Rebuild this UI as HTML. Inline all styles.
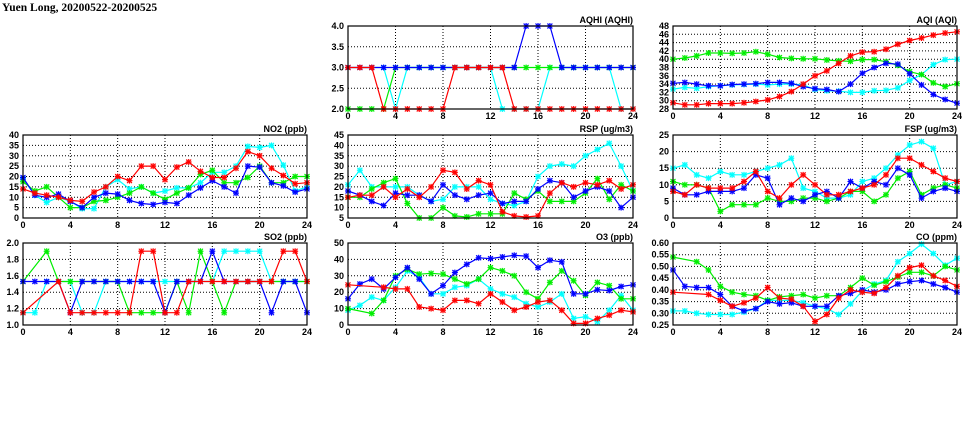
<!DOCTYPE html>
<html><head><meta charset="utf-8"><style>
body{margin:0;background:#fff;}
svg{display:block;}
text{font-family:"Liberation Sans",sans-serif;font-size:9px;font-weight:bold;fill:#000;}
.ttl{font-family:"Liberation Serif",serif;font-size:11.5px;font-weight:bold;}
</style></head><body>
<svg id="chart" width="975" height="447" viewBox="0 0 975 447" xmlns="http://www.w3.org/2000/svg">
<text class="ttl" x="2" y="11">Yuen Long, 20200522-20200525</text>
</svg>
<script>
const hours = [0,1,2,3,4,5,6,7,8,9,10,11,12,13,14,15,16,17,18,19,20,21,22,23,24];
const xTicks = [0,4,8,12,16,20,24];
const seriesNames = ["cyan","green","blue","red"];
const seriesColors = {red:"#ff0000",green:"#00ee00",cyan:"#00ffff",blue:"#0000ff"};

const aqhiRed=[3,3,3,2,2,2,2,2,2,3,3,3,3,3,2,2,2,2,2,2,2,2,2,2,2];
const aqhiGreen=[2,2,2,2,3,3,3,3,3,3,3,3,3,3,3,3,3,3,3,3,3,3,3,3,3];
const aqhiCyan=[3,3,3,3,2,3,3,3,3,3,3,3,3,2,2,2,2,3,3,3,3,3,3,2,2];
const aqhiBlue=[3,3,3,3,3,3,3,3,3,3,3,3,3,3,3,4,4,4,3,3,3,3,3,3,3];
const aqhiTicks=[2.0,2.5,3.0,3.5,4.0];

const aqiRed=[29.5,29,29,29.3,29.3,29.3,29.5,29.8,30.2,31,32.2,34,36,37.2,39,40.8,41.7,41.8,42.4,43.6,44.5,45.1,45.8,46.3,46.6];
const aqiGreen=[40,40.3,40.8,41.5,41.5,41.4,41.5,41.8,41.2,40.4,40.2,40.1,40.1,39.8,39.6,39.5,39.9,39.9,39.4,38.5,37,36.3,34.3,33.4,34.1];
const aqiCyan=[32.8,33.2,33,33.4,33.6,33.8,33.9,34,33.8,34,34,33.8,32.7,32.4,32.3,32,32,32.4,32.5,33.1,34.9,36.3,38.7,39.9,40];
const aqiBlue=[34.2,34.4,34,33.6,33.6,33.9,34,34.1,34.4,34.4,34.2,33.4,32.9,32.7,32.2,34,36.6,38,39,38.8,36.5,33.8,31.5,30.3,29.4];
const aqiTicks=[28,30,32,34,36,38,40,42,44,46,48];

const no2Red=[14,12,11,10,8.5,8,12.5,15,20,18,25,25,18.5,24.5,27,22.5,19.5,19.5,24,32,30,24,20.5,16.5,17];
const no2Green=[17.5,13,15,10,5,5,8,8.5,10,12,15,12,9,12,14.5,21,23,17,17,19.5,25,17,17,20,20];
const no2Cyan=[19,11,7.5,10,8,4.5,4.5,15,18.5,14,15,12,13,14.5,14.5,17,22,22,25,34.5,34,35,25.5,13,15];
const no2Blue=[19.5,11,10,11.5,8,5,10,12,11.5,8.5,7,6.5,7.5,7,11,14.5,18,15,12,25,24.5,17,15.5,12.5,14];
const no2Ticks=[0,5,10,15,20,25,30,35,40];

const rspRed=[15,16,16,20,15,19,15,20,28,27,19,23,21,8,6,5.5,6,17,22,20,22,21,23,19,21];
const rspGreen=[15,15,19,22,24,12,5,5,10,6,5.5,7,7,7,17,14,18,13,13,13,17,24,14,21,18];
const rspCyan=[21,28,20,20,20,20,16,13,14,20,20,20,14,12,11,13,25,30,31,30,35,38,41,30,18];
const rspBlue=[18,16,13,11,17,16,16,13,21,16,14,16,17,12,13,13,19,23,22,15,18,20,18,10,15];
const rspTicks=[5,10,15,20,25,30,35,40,45];

const fspRed=[8,7,10,9,9,9,11,14,8,6,10,13,10,7,7,8,9,10,13,18,18,16,14,12,11];
const fspGreen=[11,10,10,9,2,4,4,4,6,5,5,6,6,5,6,8,8,5,7,12,14,7,9,10,9];
const fspCyan=[15,16,13,12,14,13,13,14,15,16,18,9,8,6,6,7,11,12,15,19,22,23,21,10,11];
const fspBlue=[9,7,7,8,8,8,9,13,12,4,6,5,7,8,6,11,9,11,10,15,13,6,8,9,8];
const fspTicks=[0,5,10,15,20,25];

const so2Red=[1.15,null,null,1.53,1.15,1.15,1.15,1.15,1.15,1.15,1.9,1.9,1.15,1.15,1.53,1.53,1.53,1.53,1.53,1.53,1.53,1.53,1.9,1.9,1.53];
const so2Green=[1.53,null,1.9,1.53,1.53,1.53,1.53,1.53,1.53,1.15,1.15,1.15,1.15,1.53,1.15,1.9,1.53,1.15,1.53,1.53,1.53,1.53,1.53,1.53,1.53];
const so2Cyan=[1.15,1.15,1.53,1.53,1.53,1.15,1.15,1.53,1.53,1.53,1.53,1.53,1.53,1.53,1.53,1.53,1.53,1.9,1.9,1.9,1.9,1.53,1.53,1.53,1.53];
const so2Blue=[1.53,1.53,1.53,1.53,1.15,1.53,1.53,1.53,1.53,1.53,1.53,1.53,1.15,1.53,1.53,1.53,1.9,1.53,1.53,1.53,1.53,1.15,1.53,1.53,1.15];
const so2Ticks=[1.0,1.2,1.4,1.6,1.8,2.0];

const o3Red=[24.5,null,null,23,22,22,11,10,9,15,15,13,19,14,9,11,14,15,9,1,1,4,6,9,8];
const o3Green=[10,null,7,15,30,34,31,31.5,31,28,25,28,35,33,30,20,16,26,33,27,18,26,24,16,16];
const o3Cyan=[9,12,17,15,23,33,29,19,19,23,24,28,22,19,17,13,11,14,19,4,5,2,9,18,9];
const o3Blue=[16,25,28,22,29,35,28,19,24,32,37,41,40.5,41.5,42.5,42,35,39.5,38.5,19,19,21.5,21,23.5,24.5];
const o3Ticks=[0,10,20,30,40,50];

const coRed=[0.39,null,null,0.38,0.355,0.33,0.345,0.365,0.41,0.365,0.36,0.33,0.265,0.295,0.365,0.40,0.39,0.385,0.41,0.46,0.495,0.505,0.46,0.44,0.415];
const coGreen=[0.54,null,0.52,0.485,0.415,0.39,0.38,0.375,0.355,0.37,0.375,0.38,0.365,0.375,0.375,0.41,0.45,0.42,0.435,0.455,0.475,0.475,0.46,0.50,0.485];
const coCyan=[0.31,0.31,0.30,0.295,0.295,0.295,0.305,0.32,0.355,0.355,0.355,0.345,0.33,0.32,0.295,0.34,0.395,0.425,0.44,0.52,0.555,0.595,0.555,0.505,0.535];
const coBlue=[0.485,0.415,0.41,0.41,0.38,0.33,0.31,0.32,0.35,0.34,0.345,0.33,0.33,0.33,0.375,0.385,0.40,0.39,0.40,0.425,0.435,0.44,0.425,0.41,0.39];
const coTicks=[0.25,0.30,0.35,0.40,0.45,0.50,0.55,0.60];

const panels=[
 {id:"aqhi",title:"AQHI (AQHI)",x0:348,x1:633,y0:26,y1:109,ticks:aqhiTicks,dec:1,s:{red:aqhiRed,green:aqhiGreen,cyan:aqhiCyan,blue:aqhiBlue}},
 {id:"aqi",title:"AQI (AQI)",x0:673,x1:957,y0:26,y1:109,ticks:aqiTicks,dec:0,s:{red:aqiRed,green:aqiGreen,cyan:aqiCyan,blue:aqiBlue}},
 {id:"no2",title:"NO2 (ppb)",x0:23,x1:307,y0:135,y1:218,ticks:no2Ticks,dec:0,s:{red:no2Red,green:no2Green,cyan:no2Cyan,blue:no2Blue}},
 {id:"rsp",title:"RSP (ug/m3)",x0:348,x1:633,y0:135,y1:218,ticks:rspTicks,dec:0,s:{red:rspRed,green:rspGreen,cyan:rspCyan,blue:rspBlue}},
 {id:"fsp",title:"FSP (ug/m3)",x0:673,x1:957,y0:135,y1:218,ticks:fspTicks,dec:0,s:{red:fspRed,green:fspGreen,cyan:fspCyan,blue:fspBlue}},
 {id:"so2",title:"SO2 (ppb)",x0:23,x1:307,y0:243,y1:325,ticks:so2Ticks,dec:1,s:{red:so2Red,green:so2Green,cyan:so2Cyan,blue:so2Blue}},
 {id:"o3",title:"O3 (ppb)",x0:348,x1:633,y0:243,y1:325,ticks:o3Ticks,dec:0,s:{red:o3Red,green:o3Green,cyan:o3Cyan,blue:o3Blue}},
 {id:"co",title:"CO (ppm)",x0:673,x1:957,y0:243,y1:325,ticks:coTicks,dec:2,s:{red:coRed,green:coGreen,cyan:coCyan,blue:coBlue}}
];

const NS="http://www.w3.org/2000/svg";
const svg=document.getElementById("chart");
function mk(tag,attrs,parent){const e=document.createElementNS(NS,tag);for(const k in attrs)e.setAttribute(k,attrs[k]);parent.appendChild(e);return e;}

panels.forEach(p=>{
 const g=mk("g",{},svg);
 
 
 const ymin=p.ticks[0],ymax=p.ticks[p.ticks.length-1];
 const xs=v=>p.x0+(v/24)*(p.x1-p.x0);
 const ys=v=>p.y1-(v-ymin)/(ymax-ymin)*(p.y1-p.y0);
 xTicks.forEach(t=>{
  if(t>0&&t<24){const l=mk("line",{x1:xs(t),x2:xs(t),y1:p.y0,y2:p.y1,stroke:"#000","stroke-width":1,"stroke-dasharray":"1,2"},g);
   
   }
  const tx=mk("text",{x:xs(t),y:p.y1+10,"text-anchor":"middle"},g);tx.textContent=t;
  
  
 });
 p.ticks.forEach((t,i)=>{
  if(i>0&&i<p.ticks.length-1){const l=mk("line",{x1:p.x0,x2:p.x1,y1:ys(t),y2:ys(t),stroke:"#000","stroke-width":1,"stroke-dasharray":"1,2"},g);
   
   }
  const ty=mk("text",{x:p.x0-4,y:ys(t)+3,"text-anchor":"end"},g);ty.textContent=t.toFixed(p.dec);
  
  
 });
 const tt=mk("text",{x:p.x1,y:p.y0-3,"text-anchor":"end"},g);tt.textContent=p.title;
 
 
 seriesNames.forEach(n=>{
  const vals=p.s[n],c=seriesColors[n];
  const sg=mk("g",{},g);
  
  
  const pts=[];
  vals.forEach((v,i)=>{if(v!==null)pts.push([xs(hours[i]),ys(v)]);});
  const line=mk("polyline",{points:pts.map(q=>q[0].toFixed(1)+","+q[1].toFixed(1)).join(" "),fill:"none",stroke:c,"stroke-width":1.2},sg);
  
  
  pts.forEach(q=>{
   const m=mk("g",{},sg);
   
   
   mk("rect",{x:q[0]-2.5,y:q[1]-2.5,width:5,height:5,fill:c,"fill-opacity":0.4},m);
   mk("path",{d:`M${q[0]-2.5},${q[1]-2.5}L${q[0]+2.5},${q[1]+2.5}M${q[0]-2.5},${q[1]+2.5}L${q[0]+2.5},${q[1]-2.5}M${q[0]},${q[1]-3}V${q[1]+3}M${q[0]-3},${q[1]}H${q[0]+3}`,stroke:c,"stroke-width":1},m);
  });
 });
 const fr=mk("rect",{x:p.x0,y:p.y0,width:p.x1-p.x0,height:p.y1-p.y0,fill:"none",stroke:"#000","stroke-width":1.2},g);
 
 
});
</script>
</body></html>
